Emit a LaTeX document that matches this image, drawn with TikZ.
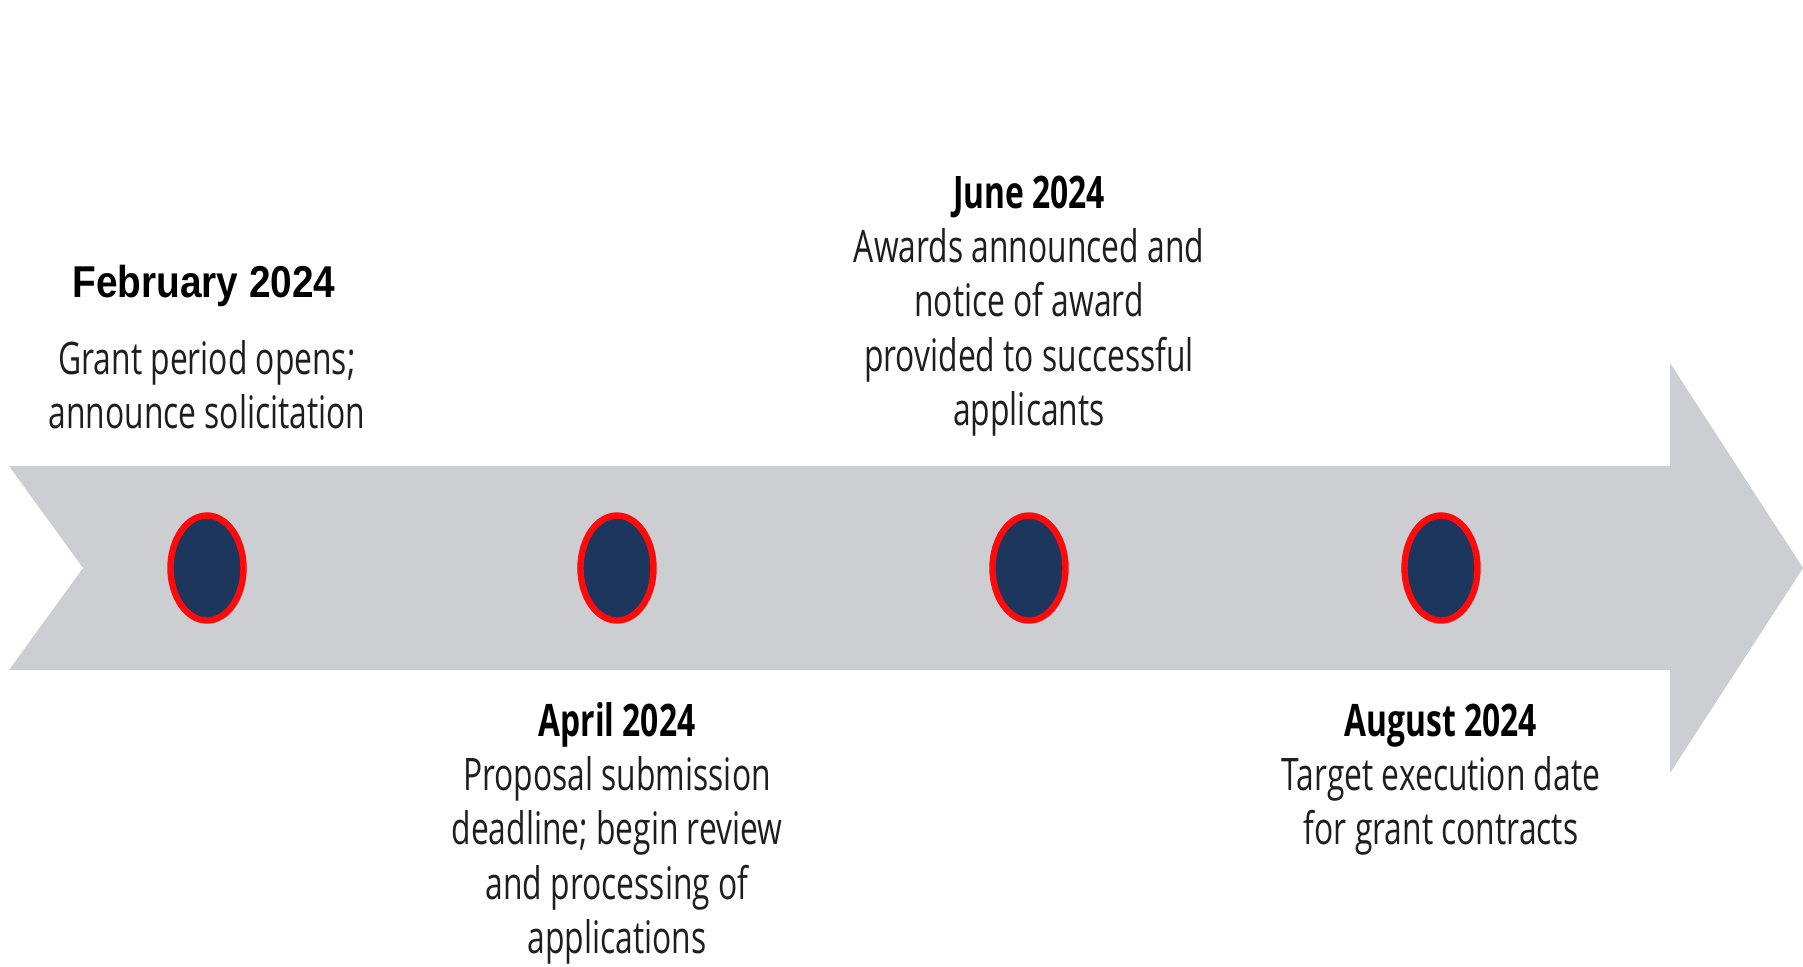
\documentclass[tikz,border=0pt]{standalone}
\usepackage{fontspec}
\usepackage{tikz}
\usetikzlibrary{shapes.geometric}
\newfontfamily\bodyfont[FakeStretch=0.71]{Open Sans}
\newfontfamily\febfont[FakeStretch=0.87]{Liberation Sans}
\definecolor{arrowgray}{RGB}{205,206,210}
\definecolor{dotnavy}{RGB}{28,54,93}
\definecolor{dotred}{RGB}{255,10,10}
\definecolor{txtgray}{RGB}{30,30,30}
\tikzset{
  dot/.style={ellipse, draw=dotred, line width=3.2pt, fill=dotnavy,
    minimum width=36.5pt, minimum height=52.5pt, inner sep=0pt},
  datehead/.style={anchor=base, inner sep=0pt, text=black,
    font=\bodyfont\bfseries\fontsize{22.4}{27.3}\selectfont},
  % base of a multi-line node is its last line
  datetext/.style={anchor=base, inner sep=0pt, align=center, text=txtgray,
    font=\bodyfont\fontsize{22.4}{27.3}\selectfont}
}

\begin{document}
\begin{tikzpicture}[x=0.5pt, y=-0.5pt]
		%%%%% START %%%%%
		\useasboundingbox (0, 0) rectangle (1803, 966);
		
		% the band
		\fill[arrowgray] (9, 466) -- (1670, 466) -- (1670, 363) -- (1803, 568)
			-- (1670, 773) -- (1670, 670) -- (9, 670) -- (83, 568) -- cycle;
		
		% milestones
		\node[dot] (feb) at (207, 568) {};
		\node[dot] (apr) at (617, 568) {};
		\node[dot] (jun) at (1029, 568) {};
		\node[dot] (aug) at (1441, 568) {};
		
		\node[anchor=base, inner sep=0pt, font=\febfont\bfseries\fontsize{22.3}{27.3}\selectfont] (febhead) at (204, 297) {February 2024};
		\node[datetext] (febtext) at (207, 428.6) {Grant period opens;\\announce solicitation};
		
		\node[datehead] (aprhead) at (617, 736) {April 2024};
		\node[datetext] (aprtext) at (617, 953.8) {Proposal submission\\deadline; begin review\\and processing of\\applications};
		
		\node[datehead] (junhead) at (1029, 208) {June 2024};
		\node[datetext] (juntext) at (1029, 425.8) {Awards announced and\\notice of award\\provided to successful\\applicants};
		
		\node[datehead] (aughead) at (1441, 736) {August 2024};
		\node[datetext] (augtext) at (1441, 844.6) {Target execution date\\for grant contracts};
		
		%%%%% END %%%%%
\end{tikzpicture}
\end{document}
